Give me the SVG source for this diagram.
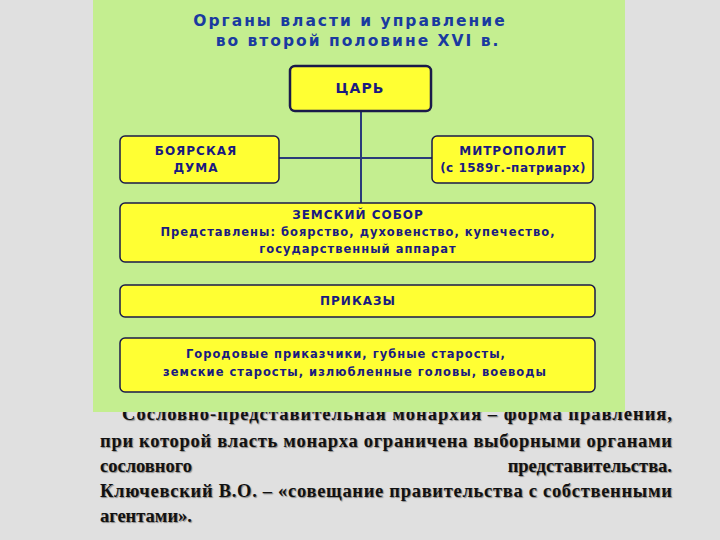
<svg xmlns="http://www.w3.org/2000/svg" width="720" height="540" viewBox="0 0 720 540">
<style>
.box{fill:#ffff33;stroke:#1a1a4a;stroke-width:1.5}
.bt{font-family:"DejaVu Sans",sans-serif;font-weight:bold;fill:#1a1a80;font-size:12px;text-anchor:middle;letter-spacing:1px}
.tt{font-family:"Liberation Serif",serif;font-weight:bold;font-size:18.5px;fill:#111;text-shadow:1px 1px 1px #888}
.ln{stroke:#2a3a7a;stroke-width:2;fill:none}
</style>
<rect width="720" height="540" fill="#e0e0e0"/>
<g class="tt">
<text x="122" y="420" textLength="550" lengthAdjust="spacing">Сословно-представительная  монархия  –  форма  правления,</text>
<text x="100" y="447" textLength="572" lengthAdjust="spacing">при которой власть монарха ограничена выборными органами</text>
<text x="100" y="472">сословного</text>
<text x="672" y="472" text-anchor="end">представительства.</text>
<text x="100" y="497" textLength="572" lengthAdjust="spacing">Ключевский В.О. – «совещание правительства с собственными</text>
<text x="100" y="522">агентами».</text>
</g>
<rect x="93" y="0" width="532" height="412" fill="#c4ee90"/>
<text class="bt" x="350" y="26" style="font-size:15.5px;fill:#1a3aa0;letter-spacing:2px">Органы власти и управление</text>
<text class="bt" x="358" y="46" style="font-size:15.5px;fill:#1a3aa0;letter-spacing:2px">во второй половине XVI в.</text>
<g id="connectors">
<line class="ln" x1="361" y1="111" x2="361" y2="203"/>
<line class="ln" x1="279" y1="158" x2="432" y2="158"/>
</g>
<g id="tsar"><rect class="box" x="290" y="66" width="141" height="45" rx="5" style="stroke-width:2.5"/><text class="bt" x="360" y="93" style="font-size:14px">ЦАРЬ</text></g>
<g id="duma"><rect class="box" x="120" y="136" width="159" height="47" rx="5"/><text class="bt" x="196" y="155">БОЯРСКАЯ</text><text class="bt" x="196" y="172">ДУМА</text></g>
<g id="metropolit"><rect class="box" x="432" y="136" width="161" height="47" rx="5"/><text class="bt" x="513" y="155">МИТРОПОЛИТ</text><text class="bt" x="513" y="172" style="letter-spacing:0.5px">(с 1589г.-патриарх)</text></g>
<g id="sobor"><rect class="box" x="120" y="203" width="475" height="59" rx="5"/><text class="bt" x="358" y="219">ЗЕМСКИЙ СОБОР</text><text class="bt" x="358" y="236" style="font-size:11.5px">Представлены: боярство, духовенство, купечество,</text><text class="bt" x="358" y="253" style="font-size:11.5px">государственный аппарат</text></g>
<g id="prikazy"><rect class="box" x="120" y="285" width="475" height="32" rx="5"/><text class="bt" x="358" y="305">ПРИКАЗЫ</text></g>
<g id="local"><rect class="box" x="120" y="338" width="475" height="54" rx="5"/><text class="bt" x="346" y="358" style="font-size:11.5px">Городовые приказчики, губные старосты,</text><text class="bt" x="355" y="376" style="font-size:11.5px">земские старосты, излюбленные головы, воеводы</text></g>
</svg>
